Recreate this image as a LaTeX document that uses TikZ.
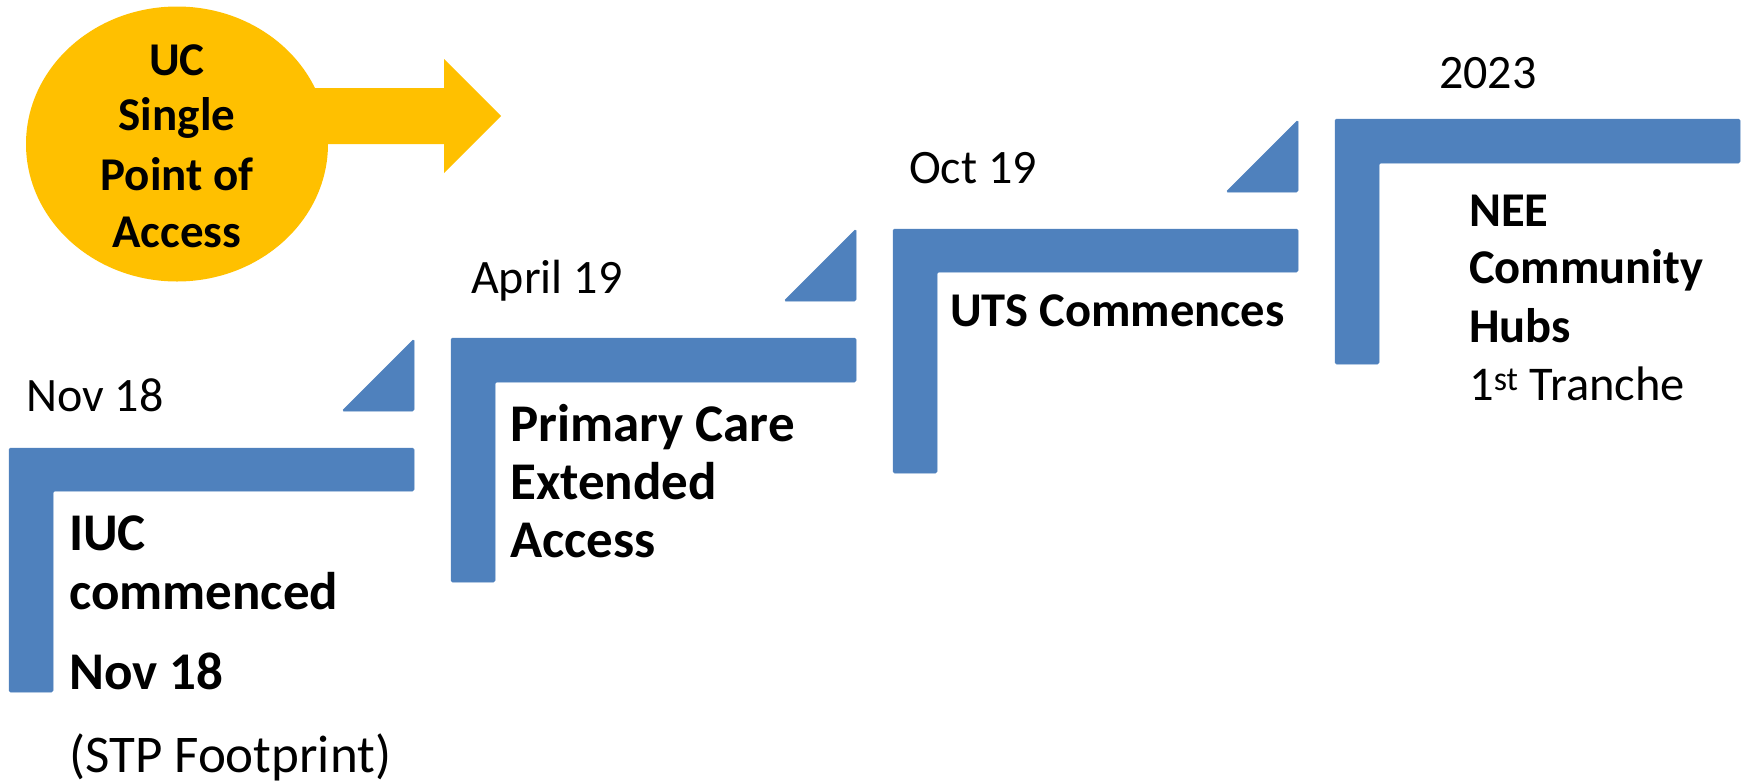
\documentclass[tikz,border=0pt]{standalone}
\usepackage{fontspec}
\setmainfont{Carlito}
\usetikzlibrary{shapes.geometric}
\definecolor{stepblue}{HTML}{4F81BD}
\definecolor{gold}{HTML}{FFC000}
\tikzset{
  lshape/.style={fill=stepblue, draw=stepblue, line width=0.5pt, rounded corners=1.5pt},
  tri/.style={fill=stepblue, draw=stepblue, line width=0.5pt, rounded corners=1.5pt},
  datetxt/.style={inner sep=0pt, anchor=base west, font=\fontsize{48}{58}\selectfont},
  boldtxt/.style={inner sep=0pt, anchor=base west, font=\fontsize{53}{62}\selectfont\bfseries},
  regtxt/.style={inner sep=0pt, anchor=base west, font=\fontsize{53}{62}\selectfont},
  smbold/.style={inner sep=0pt, anchor=base west, font=\fontsize{48.5}{58}\selectfont\bfseries},
  smreg/.style={inner sep=0pt, anchor=base west, font=\fontsize{48.5}{58}\selectfont},
  uctxt/.style={inner sep=0pt, anchor=base, font=\fontsize{47}{56}\selectfont\bfseries},
}
\begin{document}
\begin{tikzpicture}[x=1pt,y=-1pt]
\useasboundingbox (0,0) rectangle (1747,782);
% arrow and ellipse
\fill[gold] (250,88) -- (444,88) -- (444,59) -- (501,116) -- (444,173) -- (444,144) -- (250,144) -- cycle;
\node[ellipse, fill=gold, minimum width=302pt, minimum height=275pt, inner sep=0pt] (uc) at (177,144) {};
\node[uctxt] (uc1) at (177,75) {UC};
\node[uctxt] (uc2) at (177,130) {Single};
\node[uctxt] (uc3) at (177,190) {Point of};
\node[uctxt] (uc4) at (177,247) {Access};
% step 1
\filldraw[lshape] (9,448) -- (414,448) -- (414,491) -- (53,491) -- (53,692) -- (9,692) -- cycle;
\filldraw[tri] (342,411) -- (414,411) -- (414,339) -- cycle;
\node[datetxt] (d1) at (26,411) {Nov 18};
\node[boldtxt] (s1a) at (69,550) {IUC};
\node[boldtxt] (s1b) at (69,609) {commenced};
\node[boldtxt] (s1c) at (69,689) {Nov 18};
\node[regtxt] (s1d) at (69,772) {(STP Footprint)};
% step 2
\filldraw[lshape] (451,338) -- (856,338) -- (856,382) -- (495,382) -- (495,582) -- (451,582) -- cycle;
\filldraw[tri] (784,301) -- (856,301) -- (856,229) -- cycle;
\node[datetxt] (d2) at (471,293) {April 19};
\node[boldtxt] (s2a) at (510,441) {Primary Care};
\node[boldtxt] (s2b) at (510,499) {Extended};
\node[boldtxt] (s2c) at (510,557) {Access};
% step 3
\filldraw[lshape] (893,229) -- (1298,229) -- (1298,272) -- (937,272) -- (937,473) -- (893,473) -- cycle;
\filldraw[tri] (1226,192) -- (1298,192) -- (1298,120) -- cycle;
\node[datetxt] (d3) at (909,183) {Oct 19};
\node[smbold] (s3a) at (950,326) {UTS Commences};
% step 4
\filldraw[lshape] (1335,119) -- (1740,119) -- (1740,163) -- (1379,163) -- (1379,364) -- (1335,364) -- cycle;
\node[datetxt] (d4) at (1439,88) {2023};
\node[smbold] (s4a) at (1469,226) {NEE};
\node[smbold] (s4b) at (1469,283) {Community};
\node[smbold] (s4c) at (1469,342) {Hubs};
\node[smreg] (s4d) at (1469,400) {1\textsuperscript{st} Tranche};
\end{tikzpicture}
\end{document}
